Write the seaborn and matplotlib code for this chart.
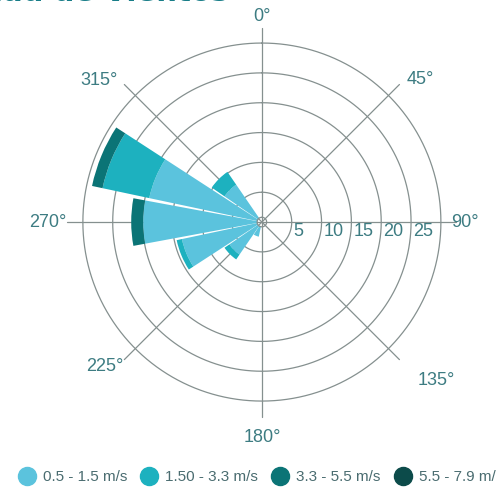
import numpy as np
import matplotlib
matplotlib.use("Agg")
import matplotlib.pyplot as plt
from matplotlib.lines import Line2D
import seaborn as sns

# Wind directions (degrees, clockwise from north), 16 sectors
directions = np.arange(0, 360, 22.5)

# Frequency (%) per speed class for each direction sector
speed_labels = ["0.5 - 1.5 m/s", "1.50 - 3.3 m/s", "3.3 - 5.5 m/s", "5.5 - 7.9 m/s"]
freq_05_15 = [0, 0, 0, 0, 0, 0, 0, 0, 0, 1.7, 5.8, 12.9, 19.1, 18.5, 6.8, 0]
freq_15_33 = [0, 0, 0, 0, 0, 0, 0, 0, 0, 0, 1.0, 0.9, 0, 8.0, 2.6, 0]
freq_33_55 = [0, 0, 0, 0, 0, 0, 0, 0, 0, 0, 0, 0, 2.0, 1.8, 0, 0]
freq_55_79 = [0, 0, 0, 0, 0, 0, 0, 0, 0, 0, 0, 0, 0, 0, 0, 0]

ring_values = [5, 10, 15, 20, 25, 30]
ring_labels = ["5", "10", "15", "20", "25"]
angle_ticks = [0, 45, 90, 135, 180, 225, 270, 315]
angle_labels = ["0°", "45°", "90°", "135°", "180°", "225°", "270°", "315°"]

sns.set_theme(style="white")
plt.rcParams["font.family"] = ["Liberation Sans Narrow", "Liberation Sans", "DejaVu Sans"]

colors = ["#5bc3dd", "#1db1bf", "#0b7476", "#0c4b4a"]
grid_color = "#85908f"
label_color = "#3d7c82"

hole = 0.8
r_max = 33

fig = plt.figure(figsize=(4.96, 4.99), dpi=100)
ax = fig.add_axes([0.131, 0.160, 0.794, 0.790], projection="polar")
ax.set_theta_zero_location("N")
ax.set_theta_direction(-1)
ax.set_ylim(0, r_max)
ax.grid(False)
ax.set_xticks([])
ax.set_yticks([])
ax.spines["polar"].set_visible(False)
ax.set_facecolor("white")

# Rings and spokes
full = np.linspace(0, 2 * np.pi, 721)
for rv in ring_values:
    ax.plot(full, np.full_like(full, rv), color=grid_color, lw=0.9, zorder=1)
ax.plot(full, np.full_like(full, hole), color=grid_color, lw=0.9, zorder=4)
for a in angle_ticks:
    t = np.deg2rad(a)
    ax.plot([t, t], [0, 32.6], color=grid_color, lw=0.9, zorder=1)

# Stacked wind-rose bars
theta = np.deg2rad(directions)
width = np.deg2rad(21)
bottom = np.full(len(directions), hole)
for vals, col in zip([freq_05_15, freq_15_33, freq_33_55, freq_55_79], colors):
    vals = np.asarray(vals, dtype=float)
    ax.bar(theta, vals, width=width, bottom=bottom, color=col,
           linewidth=0, zorder=3)
    bottom = bottom + vals

# Direction labels, offset in pixels from the centre of the rose
label_offsets = {0: (0, 206), 45: (158, 143), 90: (203, 0),
                 135: (174, -158), 180: (0, -215), 225: (-157, -144),
                 270: (-214, 0), 315: (-163, 142)}
for a, lab in zip(angle_ticks, angle_labels):
    ax.annotate(lab, xy=(0, 0), xytext=label_offsets[a],
                textcoords="offset pixels", ha="center", va="center",
                fontsize=13, color=label_color, annotation_clip=False)

# Ring value labels along the east axis
for rv, lab in zip(ring_values, ring_labels):
    ax.annotate(lab, xy=(np.pi / 2, rv), xytext=(2, -9),
                textcoords="offset pixels", ha="left", va="center",
                fontsize=13, color=label_color, annotation_clip=False)

# Title
fig.text(228 / 496, 1 - 1 / 499, "Velocidad de Vientos", ha="right",
         va="baseline", fontsize=21, fontweight="bold", color="#187d88",
         family=["DejaVu Sans"])

# Legend
handles = [Line2D([], [], marker="o", linestyle="none", markersize=13,
                  markerfacecolor=c, markeredgecolor=c) for c in colors]
fig.legend(handles, speed_labels, loc="center left",
           bbox_to_anchor=(0.039, 0.044), ncol=4, frameon=False,
           fontsize=11, handlelength=1.0, handletextpad=0.54,
           columnspacing=0.95, borderpad=0, borderaxespad=0,
           labelcolor="#4a6c70")

fig.savefig("out.png", dpi=100)
